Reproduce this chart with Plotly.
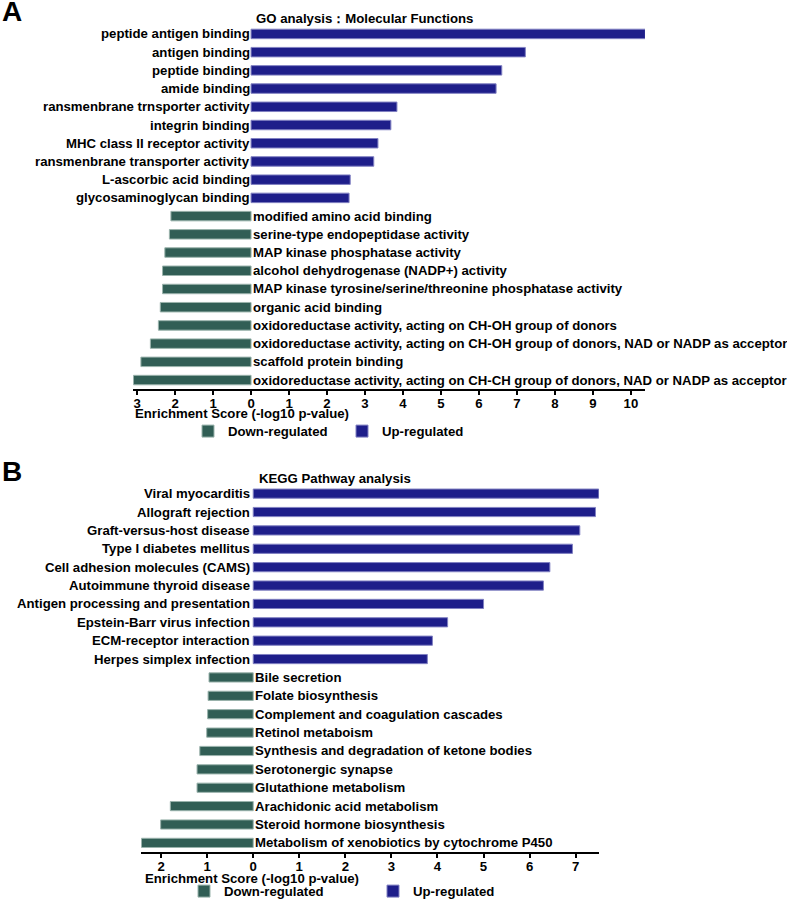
import plotly.graph_objects as go

# ---------------- Panel A data (GO Molecular Functions) ----------------
go_up_terms = [
    "peptide antigen binding",
    "antigen binding",
    "peptide binding",
    "amide binding",
    "ransmenbrane trnsporter activity",
    "integrin binding",
    "MHC class II receptor activity",
    "ransmenbrane transporter activity",
    "L-ascorbic acid binding",
    "glycosaminoglycan binding",
]
go_up_scores = [10.38, 7.22, 6.60, 6.45, 3.84, 3.68, 3.34, 3.23, 2.61, 2.58]

go_down_terms = [
    "modified amino acid binding",
    "serine-type endopeptidase activity",
    "MAP kinase phosphatase activity",
    "alcohol dehydrogenase (NADP+) activity",
    "MAP kinase tyrosine/serine/threonine phosphatase activity",
    "organic acid binding",
    "oxidoreductase activity, acting on CH-OH group of donors",
    "oxidoreductase activity, acting on CH-OH group of donors, NAD or NADP as acceptor",
    "scaffold protein binding",
    "oxidoreductase activity, acting on CH-CH group of donors, NAD or NADP as acceptor",
]
go_down_scores = [2.11, 2.15, 2.27, 2.33, 2.33, 2.39, 2.44, 2.65, 2.90, 3.10]

go_tickvals = [-3, -2, -1, 0, 1, 2, 3, 4, 5, 6, 7, 8, 9, 10]
go_ticktext = ["3", "2", "1", "0", "1", "2", "3", "4", "5", "6", "7", "8", "9", "10"]

# ---------------- Panel B data (KEGG pathways) ----------------
kegg_up_terms = [
    "Viral myocarditis",
    "Allograft rejection",
    "Graft-versus-host disease",
    "Type I diabetes mellitus",
    "Cell adhesion molecules (CAMS)",
    "Autoimmune thyroid disease",
    "Antigen processing and presentation",
    "Epstein-Barr virus infection",
    "ECM-receptor interaction",
    "Herpes simplex infection",
]
kegg_up_scores = [7.51, 7.43, 7.09, 6.93, 6.44, 6.30, 5.00, 4.22, 3.89, 3.78]

kegg_down_terms = [
    "Bile secretion",
    "Folate biosynthesis",
    "Complement and coagulation cascades",
    "Retinol metaboism",
    "Synthesis and degradation of ketone bodies",
    "Serotonergic synapse",
    "Glutathione metabolism",
    "Arachidonic acid metabolism",
    "Steroid hormone biosynthesis",
    "Metabolism of xenobiotics by cytochrome P450",
]
kegg_down_scores = [0.96, 0.98, 0.99, 1.01, 1.16, 1.22, 1.22, 1.80, 2.01, 2.43]

kegg_tickvals = [-2, -1, 0, 1, 2, 3, 4, 5, 6, 7]
kegg_ticktext = ["2", "1", "0", "1", "2", "3", "4", "5", "6", "7"]

# ---------------- Styling ----------------
W, H = 787, 900
UP = "#1e1e8a"
UP_EDGE = "#8181c2"
DOWN = "#315e55"
DOWN_EDGE = "#9ab3ac"
FAM = "Liberation Sans, Arial, sans-serif"
FS = 13.2


def px(x):
    return x / W


def py(y):
    return 1 - y / H


def bold(size):
    return dict(family=FAM, size=size, color="black", weight="bold")


fig = go.Figure()

panels = [
    dict(xa="x", ya="y", xaxis="xaxis", yaxis="yaxis", legend="legend",
         up_t=go_up_terms, up_v=go_up_scores, dn_t=go_down_terms, dn_v=go_down_scores,
         tv=go_tickvals, tt=go_ticktext, xrange=[-3.10, 10.37],
         xdom=[px(133.3), px(645)], ydom=[py(389), py(25)], yrange=[19.49, -0.49],
         width=0.52, title="GO analysis\uff1aMolecular Functions", title_xy=(254, 19),
         letter="A", letter_y=12, axtitle_xy=(133, 414), leg_xy=(188, 447), entry=109,
         up_shift=1, dn_shift=0),
    dict(xa="x2", ya="y2", xaxis="xaxis2", yaxis="yaxis2", legend="legend2",
         up_t=kegg_up_terms, up_v=kegg_up_scores, dn_t=kegg_down_terms, dn_v=kegg_down_scores,
         tv=kegg_tickvals, tt=kegg_ticktext, xrange=[-2.43, 7.50],
         xdom=[px(141.3), px(598.7)], ydom=[py(851.7), py(485)], yrange=[19.48, -0.47],
         width=0.50, title="KEGG Pathway analysis", title_xy=(257, 478),
         letter="B", letter_y=471, axtitle_xy=(143, 878), leg_xy=(184, 907), entry=144,
         up_shift=-1, dn_shift=0),
]

annotations = []
layout_extra = {}
for p in panels:
    cats = p["up_t"] + p["dn_t"]
    fig.add_trace(go.Bar(
        x=[-v for v in p["dn_v"]], y=p["dn_t"], orientation="h",
        name="Down-regulated", marker=dict(color=DOWN, line=dict(color=DOWN_EDGE, width=1)),
        width=p["width"], xaxis=p["xa"], yaxis=p["ya"], legend=p["legend"],
    ))
    fig.add_trace(go.Bar(
        x=p["up_v"], y=p["up_t"], orientation="h",
        name="Up-regulated", marker=dict(color=UP, line=dict(color=UP_EDGE, width=1)),
        width=p["width"], xaxis=p["xa"], yaxis=p["ya"], legend=p["legend"],
    ))
    layout_extra[p["xaxis"]] = dict(
        domain=p["xdom"], range=p["xrange"], anchor=p["ya"],
        tickvals=p["tv"], ticktext=p["tt"], tickfont=bold(FS),
        showline=True, linecolor="black", linewidth=2,
        ticks="outside", ticklen=4, tickwidth=1.5, tickcolor="black",
        ticklabelstandoff=-3,
        showgrid=False, zeroline=False, fixedrange=True,
    )
    layout_extra[p["yaxis"]] = dict(
        domain=p["ydom"], type="category", categoryorder="array", categoryarray=cats,
        range=p["yrange"], anchor=p["xa"], showticklabels=False, showline=False,
        showgrid=False, zeroline=False, ticks="", fixedrange=True,
    )
    layout_extra[p["legend"]] = dict(
        orientation="h", x=px(p["leg_xy"][0]), y=py(p["leg_xy"][1]),
        xanchor="left", yanchor="bottom", font=bold(FS),
        bgcolor="rgba(0,0,0,0)", borderwidth=0, traceorder="normal",
        entrywidth=p["entry"], entrywidthmode="pixels", itemclick=False,
    )
    # category labels next to the zero line
    for t in p["up_t"]:
        annotations.append(dict(x=0, y=t, xref=p["xa"], yref=p["ya"], text=t,
                                showarrow=False, xanchor="right", yanchor="middle",
                                xshift=p["up_shift"], font=bold(FS)))
    for t in p["dn_t"]:
        annotations.append(dict(x=0, y=t, xref=p["xa"], yref=p["ya"], text=t,
                                showarrow=False, xanchor="left", yanchor="middle",
                                xshift=p["dn_shift"], font=bold(FS)))
    # panel title
    annotations.append(dict(x=px(p["title_xy"][0]), y=py(p["title_xy"][1]), xref="paper",
                            yref="paper", text=p["title"], showarrow=False,
                            xanchor="left", yanchor="middle", font=bold(FS)))
    # axis title (left aligned)
    annotations.append(dict(x=px(p["axtitle_xy"][0]), y=py(p["axtitle_xy"][1]), xref="paper",
                            yref="paper", text="Enrichment Score (-log10 p-value)",
                            showarrow=False, xanchor="left", yanchor="middle", font=bold(FS)))
    # panel letter
    annotations.append(dict(x=0, y=py(p["letter_y"]), xref="paper", yref="paper",
                            text=p["letter"], showarrow=False, xanchor="left",
                            yanchor="middle", font=bold(28)))

fig.update_layout(
    width=W, height=H, margin=dict(l=0, r=0, t=0, b=0, pad=0, autoexpand=False),
    paper_bgcolor="white", plot_bgcolor="white",
    barmode="overlay", showlegend=True, font=bold(FS),
    annotations=annotations, **layout_extra,
)

fig.write_html(
    "out.html",
    config=dict(displayModeBar=False),
    post_script="document.body.style.margin='0';document.body.style.padding='0';"
                "document.body.style.overflow='hidden';",
)
